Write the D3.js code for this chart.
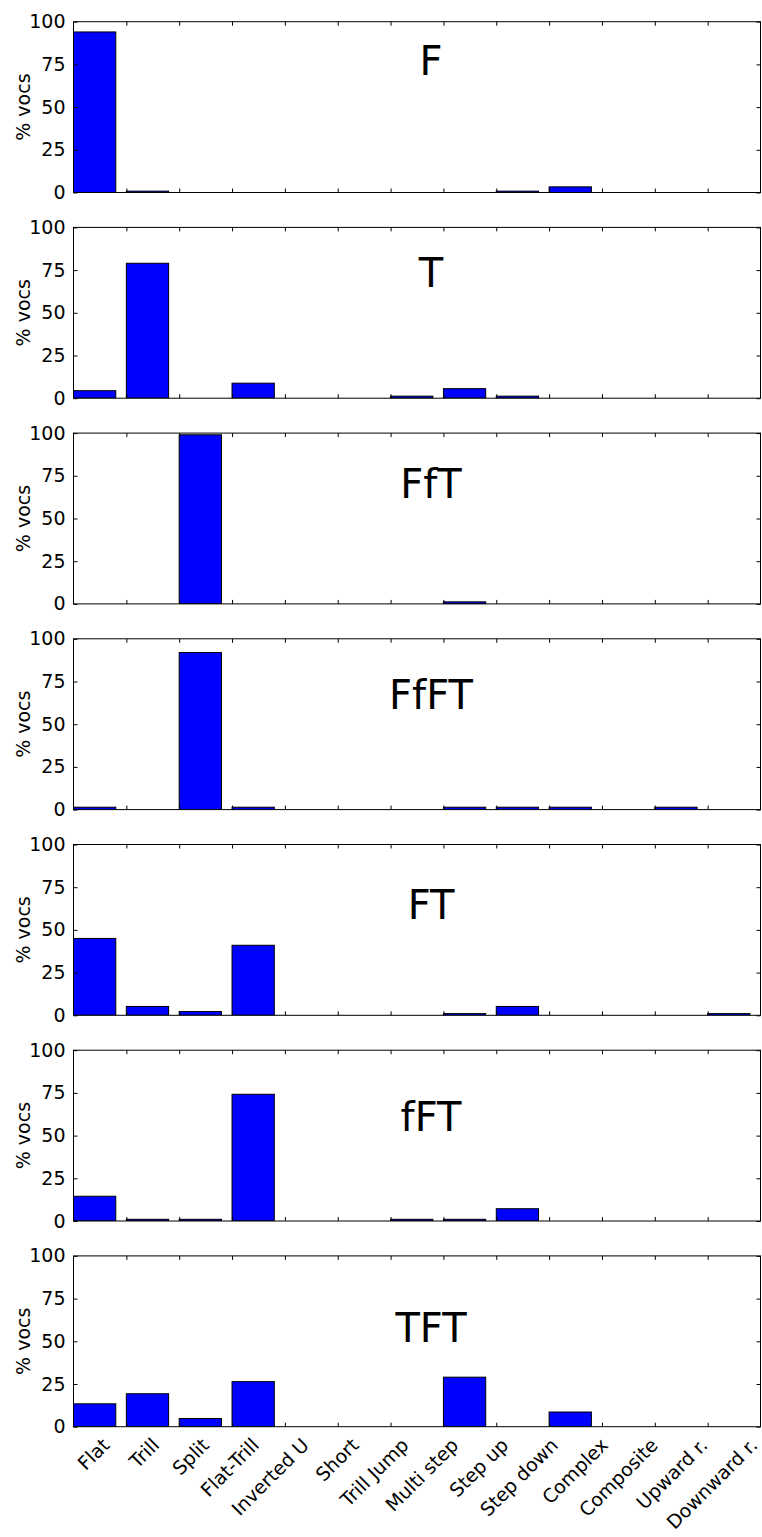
<!DOCTYPE html>
<html>
<head>
<meta charset="utf-8">
<script src="https://cdn.jsdelivr.net/npm/d3@7"></script>
<style>
  html, body { margin: 0; padding: 0; background: #ffffff; }
  svg { display: block; }
  text { font-family: "DejaVu Sans", sans-serif; fill: #000; }
</style>
</head>
<body>
<div id="chart"></div>
<script>
// ---- Data ----
const categories = ["Flat", "Trill", "Split", "Flat-Trill", "Inverted U", "Short", "Trill Jump",
  "Multi step", "Step up", "Step down", "Complex", "Composite", "Upward r.", "Downward r."];

const panelNames = ["F", "T", "FfT", "FfFT", "FT", "fFT", "TFT"];

// % vocs per category (bars sit in slots 0..12; the 14th falls outside the x-limits)
const valuesF    = [94, 0.8, 0, 0, 0, 0, 0, 0, 0.8, 3.3, 0, 0, 0, 0];
const valuesT    = [4.4, 79, 0, 8.8, 0, 0, 1.2, 5.6, 1.2, 0, 0, 0, 0, 0];
const valuesFfT  = [0, 0, 99, 0, 0, 0, 0, 1.2, 0, 0, 0, 0, 0, 0];
const valuesFfFT = [1.4, 0, 92, 1.4, 0, 0, 0, 1.4, 1.4, 1.4, 0, 1.4, 0, 0];
const valuesFT   = [45, 5.2, 2.2, 41, 0, 0, 0, 1, 5.2, 0, 0, 0, 1, 0];
const valuesfFT  = [14.5, 1, 1, 74.2, 0, 0, 1, 1, 7.2, 0, 0, 0, 0, 0];
const valuesTFT  = [13.4, 19.3, 4.8, 26.4, 0, 0, 0, 29, 0, 8.6, 0, 0, 0, 0];

const panelValues = [valuesF, valuesT, valuesFfT, valuesFfFT, valuesFT, valuesfFT, valuesTFT];

// title baseline position (in % units of each panel)
const titleY = [68.8, 65.1, 62, 58.9, 56.1, 52.6, 49.4];

const yTicks = [0, 25, 50, 75, 100];
const xTicks = [1, 2, 3, 4, 5, 6, 7, 8, 9, 10, 11, 12];

// ---- Layout ----
const W = 762, H = 1537;
const left = 73.5, right = 760.5;
const firstTop = 21.7, panelStep = 205.7, panelH = 170.8;
const barWidth = 0.8;

const svg = d3.select("#chart").append("svg")
  .attr("width", W).attr("height", H);

const x = d3.scaleLinear().domain([0, 13]).range([left, right]);
const xLabel = d3.scalePoint().domain(categories).range([101, 749]);

const tickLen = 4;

panelNames.forEach((name, k) => {
  const top = firstTop + panelStep * k;
  const bottom = top + panelH;
  const y = d3.scaleLinear().domain([0, 100]).range([bottom, top]);
  const g = svg.append("g");

  const clipId = "clip" + k;
  g.append("clipPath").attr("id", clipId)
    .append("rect").attr("x", left).attr("y", top)
    .attr("width", right - left).attr("height", panelH);

  // bars
  const data = panelValues[k].map((v, i) => ({ i, v }));
  g.append("g").attr("clip-path", `url(#${clipId})`)
    .selectAll("rect").data(data.filter(d => d.v > 0)).join("rect")
    .attr("x", d => x(d.i))
    .attr("width", d => x(d.i + barWidth) - x(d.i))
    .attr("y", d => y(d.v))
    .attr("height", d => y(0) - y(d.v))
    .attr("fill", "#0000ff")
    .attr("stroke", "#000")
    .attr("stroke-width", 1);

  // left axis with labels (inward ticks)
  const yAxisL = d3.axisLeft(y).tickValues(yTicks).tickSize(-tickLen).tickPadding(tickLen + 4)
    .tickFormat(d3.format("d"));
  const gl = g.append("g").attr("transform", `translate(${left},0)`).call(yAxisL);
  gl.select(".domain").remove();
  gl.selectAll("text").style("font-size", "19px").style("font-family", "DejaVu Sans, sans-serif");
  gl.selectAll("line").attr("stroke", "#000");

  // right axis ticks (inward)
  const gr = g.append("g").attr("transform", `translate(${right},0)`)
    .call(d3.axisRight(y).tickValues(yTicks).tickSize(-tickLen).tickFormat(""));
  gr.select(".domain").remove();

  // bottom / top x ticks (inward)
  const gb = g.append("g").attr("transform", `translate(0,${bottom})`)
    .call(d3.axisBottom(x).tickValues(xTicks).tickSize(-tickLen).tickFormat(""));
  gb.select(".domain").remove();
  const gt = g.append("g").attr("transform", `translate(0,${top})`)
    .call(d3.axisTop(x).tickValues(xTicks).tickSize(-tickLen).tickFormat(""));
  gt.select(".domain").remove();

  // frame
  g.append("rect").attr("x", left).attr("y", top)
    .attr("width", right - left).attr("height", panelH)
    .attr("fill", "none").attr("stroke", "#000").attr("stroke-width", 1);

  // y label
  g.append("text")
    .attr("transform", `translate(23,${(top + bottom) / 2}) rotate(-90)`)
    .attr("text-anchor", "middle")
    .attr("dy", "0.35em")
    .style("font-size", "19px")
    .text("% vocs");

  // panel title
  g.append("text")
    .attr("x", 431)
    .attr("y", y(titleY[k]))
    .attr("text-anchor", "middle")
    .style("font-size", "40px")
    .text(name);

  // category labels under the last panel
  if (k === panelNames.length - 1) {
    g.append("g").selectAll("text").data(categories).join("text")
      .attr("transform", d => `translate(${xLabel(d)},${bottom + 10}) rotate(-45)`)
      .attr("text-anchor", "end")
      .attr("dy", "0.72em")
      .style("font-size", "19px")
      .text(d => d);
  }
});
</script>
</body>
</html>
